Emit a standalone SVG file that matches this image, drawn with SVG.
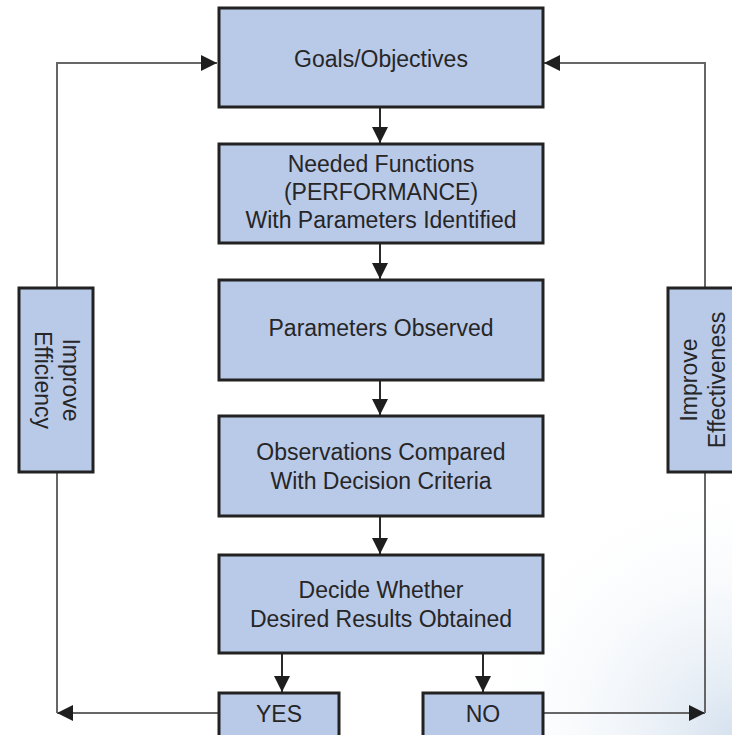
<svg xmlns="http://www.w3.org/2000/svg" width="732" height="735" viewBox="0 0 732 735">
  <defs>
    <radialGradient id="haze" cx="732" cy="735" r="260" gradientUnits="userSpaceOnUse">
      <stop offset="0" stop-color="#d6e2ef"/>
      <stop offset="1" stop-color="#ffffff" stop-opacity="0"/>
    </radialGradient>
    <marker id="arr" viewBox="0 0 10 10" refX="10" refY="5" markerWidth="16" markerHeight="16" markerUnits="userSpaceOnUse" orient="auto">
      <path d="M0,0 L10,5 L0,10 Z" fill="#1e1e1e"/>
    </marker>
  </defs>
  <style>
    .box { fill: #b9c9e8; stroke: #222; stroke-width: 3; }
    .lbl { font-family: "Liberation Sans", Arial, sans-serif; font-size: 23px; fill: #262626; text-anchor: middle; }
    .flow { stroke: #2a2a2a; stroke-width: 2; fill: none; }
    .loop { stroke: #666; stroke-width: 2; fill: none; }
  </style>

  <rect width="732" height="735" fill="#ffffff"/>
  <rect width="732" height="735" fill="url(#haze)"/>

  <!-- connectors -->
  <g id="connectors">
    <line class="flow" x1="380" y1="107" x2="380" y2="143" marker-end="url(#arr)"/>
    <line class="flow" x1="380" y1="243" x2="380" y2="279" marker-end="url(#arr)"/>
    <line class="flow" x1="380" y1="380" x2="380" y2="415" marker-end="url(#arr)"/>
    <line class="flow" x1="380" y1="516" x2="380" y2="554" marker-end="url(#arr)"/>
    <line class="flow" x1="282" y1="653" x2="282" y2="692" marker-end="url(#arr)"/>
    <line class="flow" x1="483" y1="653" x2="483" y2="692" marker-end="url(#arr)"/>
    <!-- efficiency loop -->
    <polyline class="loop" points="218,713 57,713" marker-end="url(#arr)"/>
    <polyline class="loop" points="57,713 57,63 217,63" marker-end="url(#arr)"/>
    <!-- effectiveness loop -->
    <polyline class="loop" points="543,713 705,713" marker-end="url(#arr)"/>
    <polyline class="loop" points="705,713 705,63 544,63" marker-end="url(#arr)"/>
  </g>

  <g id="goals">
    <rect class="box" x="219" y="8" width="324" height="99"/>
    <text class="lbl" x="381" y="67">Goals/Objectives</text>
  </g>
  <g id="functions">
    <rect class="box" x="219" y="144" width="324" height="99"/>
    <text class="lbl" x="381" y="172">Needed Functions</text>
    <text class="lbl" x="381" y="200">(PERFORMANCE)</text>
    <text class="lbl" x="381" y="228">With Parameters Identified</text>
  </g>
  <g id="observed">
    <rect class="box" x="219" y="280" width="324" height="100"/>
    <text class="lbl" x="381" y="336">Parameters Observed</text>
  </g>
  <g id="compared">
    <rect class="box" x="219" y="416" width="324" height="100"/>
    <text class="lbl" x="381" y="460">Observations Compared</text>
    <text class="lbl" x="381" y="489">With Decision Criteria</text>
  </g>
  <g id="decide">
    <rect class="box" x="219" y="555" width="324" height="98"/>
    <text class="lbl" x="381" y="598">Decide Whether</text>
    <text class="lbl" x="381" y="627">Desired Results Obtained</text>
  </g>
  <g id="yes">
    <rect class="box" x="219" y="693" width="120" height="50"/>
    <text class="lbl" x="279" y="722">YES</text>
  </g>
  <g id="no">
    <rect class="box" x="423" y="693" width="120" height="50"/>
    <text class="lbl" x="483" y="722">NO</text>
  </g>
  <g id="efficiency">
    <rect class="box" x="19" y="288" width="74" height="184"/>
    <text class="lbl" transform="translate(56,380) rotate(90)"><tspan x="0" y="-7">Improve</tspan><tspan x="0" y="21">Efficiency</tspan></text>
  </g>
  <g id="effectiveness">
    <rect class="box" x="668" y="288" width="74" height="184"/>
    <text class="lbl" transform="translate(704,380) rotate(-90)"><tspan x="0" y="-7">Improve</tspan><tspan x="0" y="21">Effectiveness</tspan></text>
  </g>
</svg>
